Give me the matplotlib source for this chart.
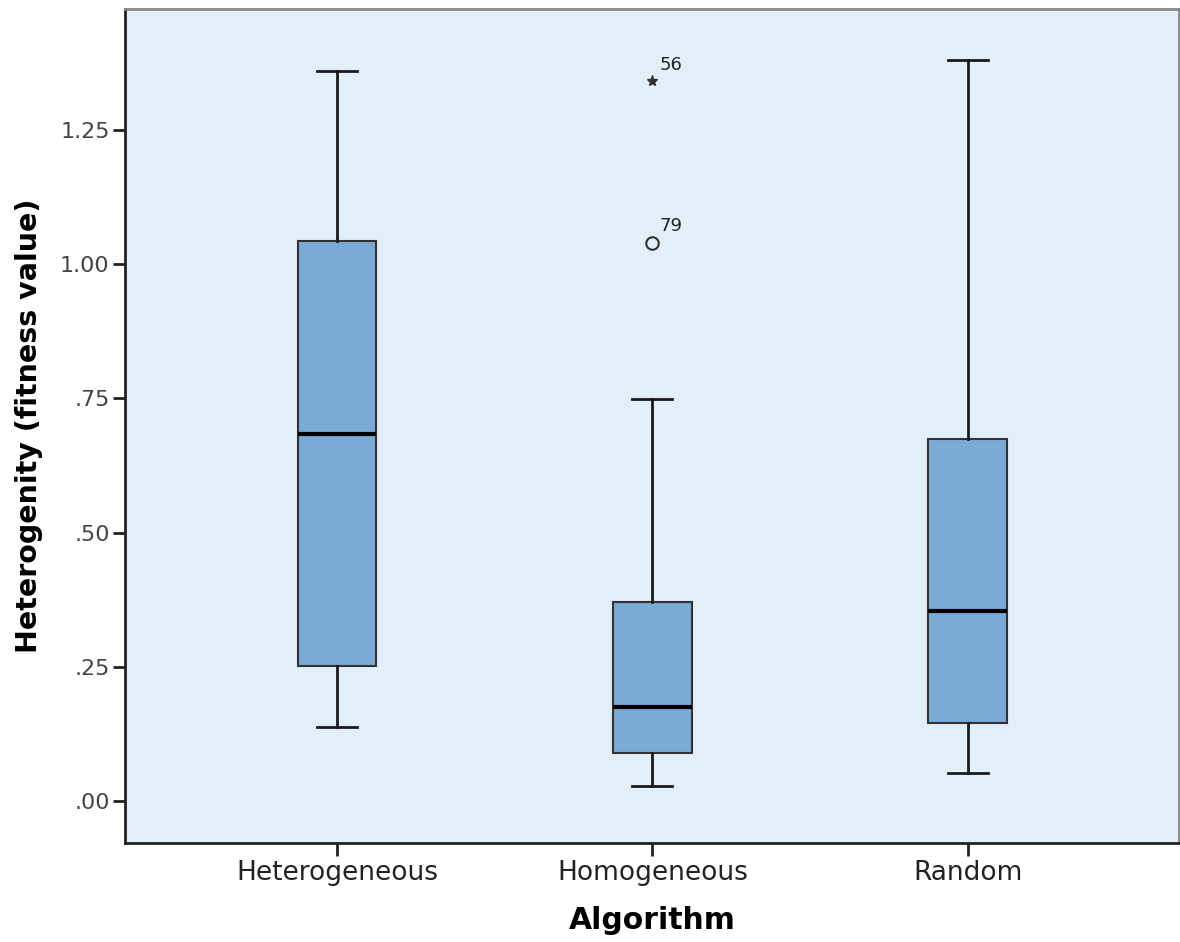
import matplotlib
matplotlib.use('Agg')
import matplotlib.pyplot as plt

# 박스플롯 요약 통계
categories = ['Heterogeneous', 'Homogeneous', 'Random']
whisker_low = [0.138, 0.028, 0.052]
q1 = [0.251, 0.089, 0.145]
median = [0.684, 0.175, 0.354]
q3 = [1.043, 0.371, 0.674]
whisker_high = [1.360, 0.749, 1.380]

# 이상치 (Homogeneous)
outlier_group = [2, 2]
outlier_values = [1.341, 1.040]
outlier_ids = ['56', '79']
outlier_markers = ['*', 'o']

y_ticks = [0.0, 0.25, 0.50, 0.75, 1.00, 1.25]
y_tick_labels = ['.00', '.25', '.50', '.75', '1.00', '1.25']

plt.rcParams['font.family'] = ['DejaVu Sans']

fig = plt.figure(figsize=(11.8, 9.42), dpi=100)
ax = fig.add_axes([0.1059, 0.1051, 0.8932, 0.8854])
ax.set_facecolor('#e2eefa')

stats = []
for i, name in enumerate(categories):
    stats.append({
        'label': name,
        'whislo': whisker_low[i],
        'q1': q1[i],
        'med': median[i],
        'q3': q3[i],
        'whishi': whisker_high[i],
        'fliers': [],
    })

ax.bxp(
    stats,
    positions=[1, 2, 3],
    widths=0.25,
    capwidths=0.127,
    patch_artist=True,
    showfliers=False,
    boxprops=dict(facecolor='#7baad6', edgecolor='#333333', linewidth=1.5),
    medianprops=dict(color='black', linewidth=3),
    whiskerprops=dict(color='#1a1a1a', linewidth=2),
    capprops=dict(color='#1a1a1a', linewidth=2),
)

for g, v, lab, m in zip(outlier_group, outlier_values, outlier_ids, outlier_markers):
    if m == '*':
        ax.plot(g, v, marker='*', color='#333333', markersize=8, linestyle='none')
    else:
        ax.plot(g, v, marker='o', markerfacecolor='none', markeredgecolor='#333333',
                markeredgewidth=1.5, markersize=9, linestyle='none')
    ax.annotate(lab, (g, v), xytext=(5, 8), textcoords='offset points',
                fontsize=13, color='#222222')

ax.set_xlim(0.328, 3.669)
ax.set_ylim(-0.078, 1.475)
ax.set_xticks([1, 2, 3])
ax.set_xticklabels(categories, fontsize=19, color='#222222')
ax.set_yticks(y_ticks)
ax.set_yticklabels(y_tick_labels, fontsize=16, color='#444444')
ax.tick_params(axis='both', length=9, width=2, color='#222222', direction='out')
ax.tick_params(axis='y', pad=2)

ax.set_xlabel('Algorithm', fontsize=21.5, fontweight='bold', labelpad=14)
ax.set_ylabel('Heterogenity (fitness value)', fontsize=20.5, fontweight='bold', labelpad=12)

for side in ['left', 'bottom']:
    ax.spines[side].set_color('#222222')
    ax.spines[side].set_linewidth(2)
for side in ['top', 'right']:
    ax.spines[side].set_color('#888888')
    ax.spines[side].set_linewidth(2)

fig.savefig('out.png', dpi=100)
